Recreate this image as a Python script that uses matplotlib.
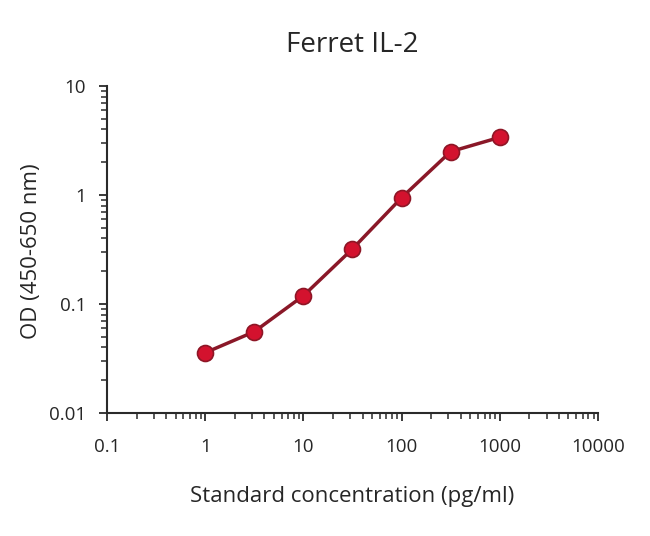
import matplotlib
matplotlib.use("Agg")
import matplotlib.pyplot as plt
from matplotlib.ticker import LogLocator, FixedLocator, FixedFormatter, NullFormatter

conc = [1, 3.16, 10, 31.6, 100, 316, 1000]
od = [0.0357, 0.0557, 0.119, 0.32, 0.944, 2.50, 3.38]
xticks = [0.1, 1, 10, 100, 1000, 10000]
xlabels = ["0.1", "1", "10", "100", "1000", "10000"]
yticks = [0.01, 0.1, 1, 10]
ylabels = ["0.01", "0.1", "1", "10"]

plt.rcParams['font.family'] = ['Open Sans', 'DejaVu Sans']
TXT = "#262626"

fig = plt.figure(figsize=(6.5, 5.36), dpi=100)
ax = fig.add_axes([0.1646, 0.2295, 0.7554, 0.6101])
ax.plot(conc, od, color="#8a1828", lw=2.5, marker="o", markersize=11.5,
        markerfacecolor="#d3122e", markeredgecolor="#8e1626", markeredgewidth=1.2, zorder=3)
ax.set_xscale("log")
ax.set_yscale("log")
ax.set_xlim(0.1, 10000)
ax.set_ylim(0.01, 10)
ax.xaxis.set_major_locator(FixedLocator(xticks))
ax.xaxis.set_major_formatter(FixedFormatter(xlabels))
ax.yaxis.set_major_locator(FixedLocator(yticks))
ax.yaxis.set_major_formatter(FixedFormatter(ylabels))
ax.xaxis.set_minor_locator(LogLocator(base=10, subs=range(2, 10), numticks=20))
ax.yaxis.set_minor_locator(LogLocator(base=10, subs=range(2, 10), numticks=20))
ax.xaxis.set_minor_formatter(NullFormatter())
ax.yaxis.set_minor_formatter(NullFormatter())
for s in ["top", "right"]:
    ax.spines[s].set_visible(False)
for s in ["left", "bottom"]:
    ax.spines[s].set_linewidth(1.5)
    ax.spines[s].set_color("#2a2a2a")
ax.tick_params(which="major", length=6, width=1.3, color="#2a2a2a", labelsize=13.5, labelcolor=TXT)
ax.tick_params(axis="x", which="major", pad=12)
ax.tick_params(axis="y", which="major", pad=9)
ax.tick_params(which="minor", length=4, width=1.1, color="#2a2a2a")

fig.text(0.5415, 0.903, "Ferret IL-2", fontsize=20, color=TXT, ha="center", va="baseline")
fig.text(0.541, 0.0728, "Standard concentration (pg/ml)", fontsize=16, color=TXT, ha="center", va="center")
fig.text(0.0477, 0.531, "OD (450-650 nm)", fontsize=16, color=TXT, ha="center", va="center", rotation=90)
fig.savefig("out.png", dpi=100)
